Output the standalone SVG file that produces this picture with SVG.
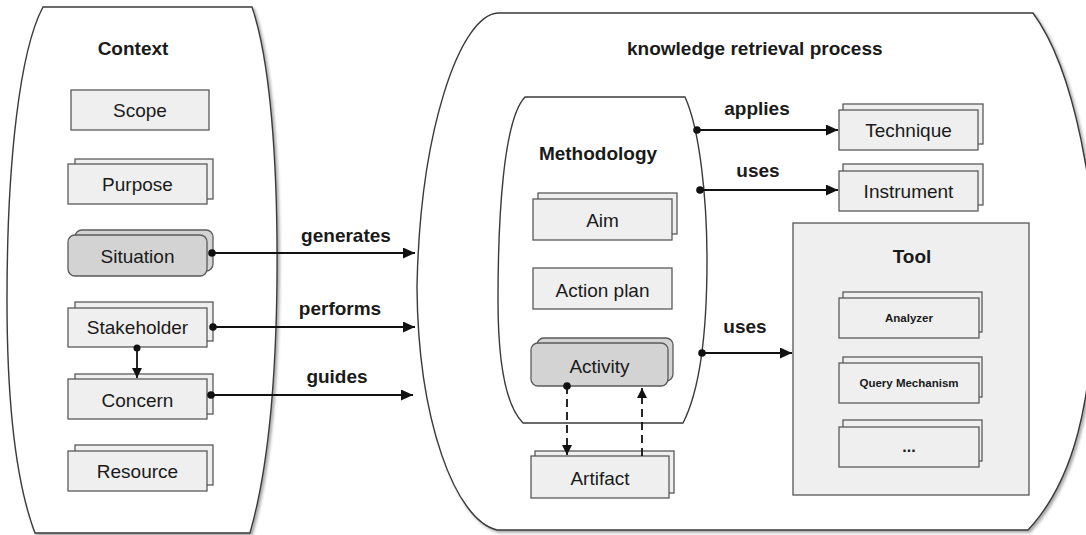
<svg xmlns="http://www.w3.org/2000/svg" width="1086" height="535" viewBox="0 0 1086 535">
<style>
.cont{fill:#fff;stroke:#3a3a3a;stroke-width:1.4}
.box{fill:#efefef;stroke:#5a5a5a;stroke-width:1.3}
.dark{fill:#d3d3d3;stroke:#5a5a5a;stroke-width:1.3}
.tool{fill:#efefef;stroke:#555;stroke-width:1.3}
.lbl{font-family:"Liberation Sans",Arial,sans-serif;font-size:19px;fill:#1a1a1a;text-anchor:middle}
.b{font-weight:bold}
.sm{font-family:"Liberation Sans",Arial,sans-serif;font-size:11.5px;font-weight:bold;fill:#1a1a1a;text-anchor:middle}
.ln{fill:none;stroke:#111;stroke-width:1.8}
.dash{stroke-dasharray:8 5}
.dot{fill:#111}
</style>
<defs>
<marker id="ah" markerUnits="userSpaceOnUse" markerWidth="13" markerHeight="12" refX="12" refY="5.5" orient="auto">
<path d="M0,0 L12,5.5 L0,11 Z" fill="#111"/>
</marker>
<marker id="ahs" markerUnits="userSpaceOnUse" markerWidth="11" markerHeight="11" refX="10" refY="5" orient="auto">
<path d="M0,0 L10,5 L0,10 Z" fill="#111"/>
</marker>
<filter id="sh" x="-5%" y="-5%" width="110%" height="110%">
<feDropShadow dx="2" dy="2" stdDeviation="1.5" flood-color="#000" flood-opacity="0.35"/>
</filter>
</defs>

<g id="context">
<path class="cont" filter="url(#sh)" d="M43,7 L252,7 C270,60 278,160 277,280 C276,380 268,470 250,533 L35,533 C15,480 7,400 7,300 C7,160 20,50 43,7 Z"/>
<text class="lbl b" x="133" y="55">Context</text>
</g>

<g id="krp">
<path class="cont" filter="url(#sh)" d="M498,13 L1033,13 C1075,70 1098,200 1095,290 C1092,400 1075,480 1028,530 L497,530 C455,520 418,420 417,287 C420,130 460,15 498,13 Z"/>
<text class="lbl b" x="627" y="55" style="text-anchor:start">knowledge retrieval process</text>
</g>

<g id="methodology">
<path class="cont" d="M525,97 L685,97 C700,130 707,200 707,260 C707,330 700,390 683,423 L523,423 C505,405 498,360 498,300 C498,220 503,120 525,97 Z"/>
<text class="lbl b" x="598" y="160">Methodology</text>
</g>

<g id="scope">
<rect class="box" x="71" y="90" width="138" height="40"/>
<text class="lbl" x="140" y="117">Scope</text>
</g>
<g id="purpose">
<rect class="box" x="75" y="159" width="138" height="40"/>
<rect class="box" x="68" y="164" width="139" height="40"/>
<text class="lbl" x="137.5" y="191">Purpose</text>
</g>
<g id="situation">
<rect class="dark" x="75" y="230" width="138" height="41" rx="7"/>
<rect class="dark" x="68" y="235" width="139" height="41" rx="7"/>
<text class="lbl" x="137.5" y="263">Situation</text>
</g>
<g id="stakeholder">
<rect class="box" x="75" y="302" width="138" height="39"/>
<rect class="box" x="68" y="308" width="139" height="39"/>
<text class="lbl" x="137.5" y="334">Stakeholder</text>
</g>
<g id="concern">
<rect class="box" x="75" y="374" width="138" height="40"/>
<rect class="box" x="68" y="379" width="139" height="40"/>
<text class="lbl" x="137.5" y="407">Concern</text>
</g>
<g id="resource">
<rect class="box" x="75" y="445" width="138" height="40"/>
<rect class="box" x="68" y="451" width="139" height="40"/>
<text class="lbl" x="137.5" y="478">Resource</text>
</g>

<g id="aim">
<rect class="box" x="538" y="193" width="139" height="41"/>
<rect class="box" x="533" y="199" width="139" height="41"/>
<text class="lbl" x="602.5" y="227">Aim</text>
</g>
<g id="actionplan">
<rect class="box" x="533" y="268" width="139" height="41"/>
<text class="lbl" x="602.5" y="297">Action plan</text>
</g>
<g id="activity">
<rect class="dark" x="537" y="338" width="136" height="43" rx="7"/>
<rect class="dark" x="531" y="343" width="137" height="43" rx="7"/>
<text class="lbl" x="599.5" y="373">Activity</text>
</g>
<g id="artifact">
<rect class="box" x="535" y="451" width="139" height="42"/>
<rect class="box" x="531" y="456" width="138" height="42"/>
<text class="lbl" x="600" y="485">Artifact</text>
</g>

<g id="technique">
<rect class="box" x="843" y="104" width="140" height="40"/>
<rect class="box" x="839" y="110" width="139" height="40"/>
<text class="lbl" x="908.5" y="137">Technique</text>
</g>
<g id="instrument">
<rect class="box" x="843" y="164" width="140" height="41"/>
<rect class="box" x="839" y="171" width="139" height="40"/>
<text class="lbl" x="908.5" y="198">Instrument</text>
</g>

<g id="tool">
<rect class="tool" x="793" y="223" width="236" height="272"/>
<text class="lbl b" x="912" y="263">Tool</text>
</g>
<g id="analyzer">
<rect class="box" x="843" y="292" width="139" height="40"/>
<rect class="box" x="839" y="298" width="140" height="40"/>
<text class="sm" x="909" y="322">Analyzer</text>
</g>
<g id="query">
<rect class="box" x="843" y="357" width="139" height="40"/>
<rect class="box" x="839" y="363" width="140" height="40"/>
<text class="sm" x="909" y="387">Query Mechanism</text>
</g>
<g id="more">
<rect class="box" x="843" y="420" width="139" height="41"/>
<rect class="box" x="839" y="427" width="140" height="40"/>
<text class="sm" x="909" y="452" style="font-size:16px">...</text>
</g>

<g id="connectors">
<line class="ln" x1="212" y1="253" x2="415" y2="253" marker-end="url(#ah)"/>
<circle class="dot" cx="212" cy="253" r="3.8"/>
<text class="lbl b" x="346" y="242">generates</text>

<line class="ln" x1="213" y1="327" x2="415" y2="327" marker-end="url(#ah)"/>
<circle class="dot" cx="213" cy="327" r="3.8"/>
<text class="lbl b" x="340" y="315">performs</text>

<line class="ln" x1="211" y1="395" x2="413" y2="395" marker-end="url(#ah)"/>
<circle class="dot" cx="211" cy="395" r="3.8"/>
<text class="lbl b" x="337" y="383">guides</text>

<line class="ln" x1="137" y1="348" x2="137" y2="378" marker-end="url(#ahs)"/>
<circle class="dot" cx="137" cy="348" r="3.5"/>

<line class="ln" x1="697" y1="130" x2="838" y2="130" marker-end="url(#ah)"/>
<circle class="dot" cx="697" cy="130" r="3.8"/>
<text class="lbl b" x="757" y="115">applies</text>

<line class="ln" x1="700" y1="190" x2="838" y2="190" marker-end="url(#ah)"/>
<circle class="dot" cx="700" cy="190" r="3.8"/>
<text class="lbl b" x="758" y="177">uses</text>

<line class="ln" x1="702" y1="353" x2="792" y2="353" marker-end="url(#ah)"/>
<circle class="dot" cx="702" cy="353" r="3.8"/>
<text class="lbl b" x="745" y="333">uses</text>

<line class="ln dash" x1="567" y1="386" x2="567" y2="455" marker-end="url(#ahs)"/>
<circle class="dot" cx="567" cy="386" r="3.8"/>
<line class="ln dash" x1="642" y1="456" x2="642" y2="388" marker-end="url(#ahs)"/>
</g>
</svg>
